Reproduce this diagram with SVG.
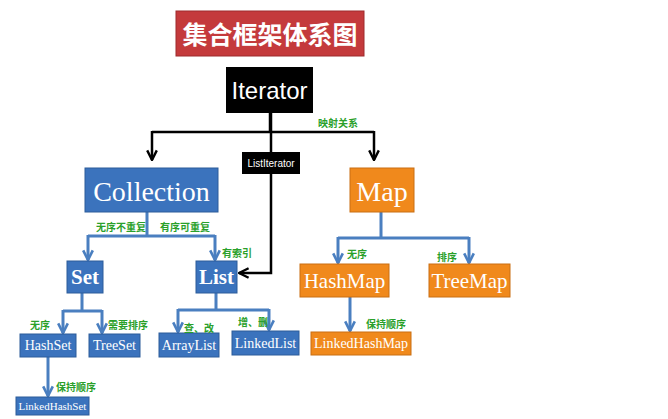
<svg xmlns="http://www.w3.org/2000/svg" width="668" height="419" viewBox="0 0 668 419">
<defs>
<style>
.b{fill:#3b73bd;stroke:#2d5c9a;stroke-width:1}
.o{fill:#f0891c;stroke:#c96f12;stroke-width:1}
.k{fill:#000}
.t{fill:#fff;font-family:"Liberation Serif",serif;text-anchor:middle;dominant-baseline:central}
.g{fill:#2aa02a;font-family:"Noto Sans CJK SC",sans-serif;font-size:10px;font-weight:bold}
.bl{fill:none;stroke:#4a7fc0;stroke-width:3}
.kl{fill:none;stroke:#000;stroke-width:2.5}
</style>
<marker id="ab" viewBox="0 0 10 10" refX="9" refY="5" markerWidth="12" markerHeight="12" orient="auto" markerUnits="userSpaceOnUse"><path d="M1,1 L9,5 L1,9" fill="none" stroke="#4a7fc0" stroke-width="2.2"/></marker>
<marker id="ak" viewBox="0 0 10 10" refX="9" refY="5" markerWidth="12" markerHeight="12" orient="auto" markerUnits="userSpaceOnUse"><path d="M1,1 L9,5 L1,9" fill="none" stroke="#000" stroke-width="2"/></marker>
</defs>
<rect width="668" height="419" fill="#fff"/>
<g id="connectors">
<path class="kl" d="M270,113 V132 M152,132 H374"/>
<path class="kl" d="M152,131 V160" marker-end="url(#ak)"/>
<path class="kl" d="M374,131 V160" marker-end="url(#ak)"/>
<path class="kl" d="M271,113 V273 H239" marker-end="url(#ak)"/>
<path class="bl" d="M147,212 V236 M88,236 H215"/>
<path class="bl" d="M88,235 V260" marker-end="url(#ab)"/>
<path class="bl" d="M215,235 V260" marker-end="url(#ab)"/>
<path class="bl" d="M82,293 V311 M63,311 H102"/>
<path class="bl" d="M63,310 V333" marker-end="url(#ab)"/>
<path class="bl" d="M102,310 V333" marker-end="url(#ab)"/>
<path class="bl" d="M48,357 V396" marker-end="url(#ab)"/>
<path class="bl" d="M216,293 V310 M178,310 H269"/>
<path class="bl" d="M178,309 V332" marker-end="url(#ab)"/>
<path class="bl" d="M269,309 V330" marker-end="url(#ab)"/>
<path class="bl" d="M381,212 V238 M338,238 H469"/>
<path class="bl" d="M338,237 V263" marker-end="url(#ab)"/>
<path class="bl" d="M469,237 V263" marker-end="url(#ab)"/>
<path class="bl" d="M350,297 V331" marker-end="url(#ab)"/>
</g>
<g id="title"><rect x="176" y="11" width="188" height="45" fill="#c43a3c" stroke="#9e2a2c"/><text x="270" y="33" class="t" style="font-family:'Noto Sans CJK SC',sans-serif;font-weight:bold;font-size:25px">集合框架体系图</text></g>
<g id="iterator"><rect x="226" y="67" width="87" height="46" class="k"/><text x="269.5" y="90" class="t" style="font-family:'Liberation Sans',sans-serif;font-size:24px">Iterator</text></g>
<g id="listiterator"><rect x="242" y="152" width="58" height="22" class="k"/><text x="271" y="163.5" class="t" style="font-family:'Liberation Sans',sans-serif;font-size:10px">ListIterator</text></g>
<g id="collection"><rect x="85" y="168" width="133" height="44" class="b"/><text x="151.5" y="191" class="t" font-size="28">Collection</text></g>
<g id="map"><rect x="350" y="168" width="64" height="44" class="o"/><text x="382" y="191" class="t" font-size="28">Map</text></g>
<g id="set"><rect x="67" y="261" width="36" height="32" class="b"/><text x="85" y="277" class="t" font-size="21" font-weight="bold">Set</text></g>
<g id="list"><rect x="196" y="261" width="41" height="32" class="b"/><text x="216.5" y="277" class="t" font-size="21" font-weight="bold">List</text></g>
<g id="hashset"><rect x="20" y="334" width="56" height="23" class="b"/><text x="48" y="345.5" class="t" font-size="14">HashSet</text></g>
<g id="treeset"><rect x="89" y="334" width="51" height="23" class="b"/><text x="114.5" y="345.5" class="t" font-size="14">TreeSet</text></g>
<g id="linkedhashset"><rect x="16" y="397" width="73" height="18" class="b"/><text x="52.5" y="406" class="t" font-size="11">LinkedHashSet</text></g>
<g id="arraylist"><rect x="159" y="333" width="60" height="24" class="b"/><text x="189" y="345" class="t" font-size="14">ArrayList</text></g>
<g id="linkedlist"><rect x="232" y="331" width="67" height="24" class="b"/><text x="265.5" y="343" class="t" font-size="14">LinkedList</text></g>
<g id="hashmap"><rect x="300" y="264" width="89" height="33" class="o"/><text x="344.5" y="280.5" class="t" font-size="21">HashMap</text></g>
<g id="treemap"><rect x="429" y="264" width="81" height="33" class="o"/><text x="469.5" y="280.5" class="t" font-size="21">TreeMap</text></g>
<g id="linkedhashmap"><rect x="311" y="332" width="100" height="23" class="o"/><text x="361" y="343.5" class="t" font-size="14">LinkedHashMap</text></g>
<g id="labels">
<text x="318" y="127" class="g">映射关系</text>
<text x="96" y="231" class="g">无序不重复</text>
<text x="160" y="231" class="g">有序可重复</text>
<text x="222" y="257" class="g">有索引</text>
<text x="30" y="329" class="g">无序</text>
<text x="108" y="329" class="g">需要排序</text>
<text x="56" y="391" class="g">保持顺序</text>
<text x="184" y="332" class="g">查、改</text>
<text x="238" y="326" class="g">增、删</text>
<text x="347" y="258" class="g">无序</text>
<text x="437" y="261" class="g">排序</text>
<text x="366" y="328" class="g">保持顺序</text>
</g>
</svg>
